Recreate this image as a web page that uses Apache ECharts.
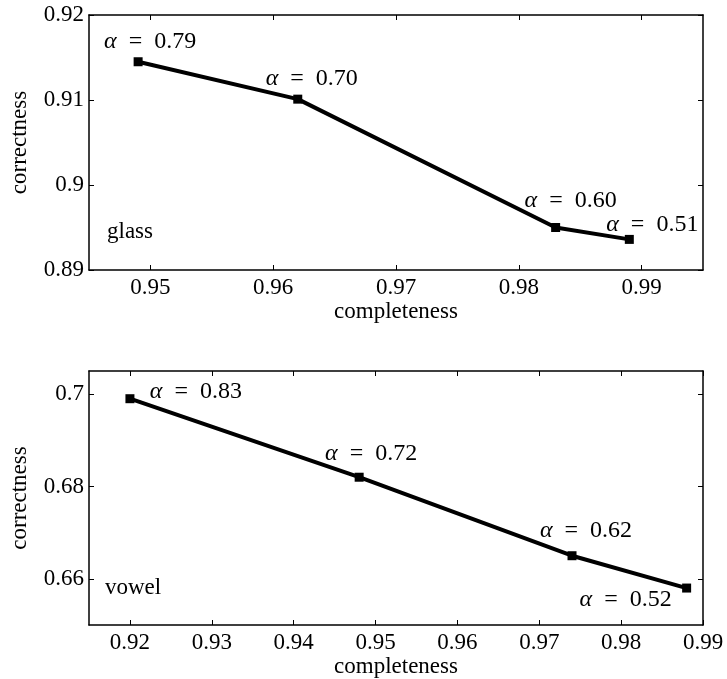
<!DOCTYPE html>
<html>
<head>
<meta charset="utf-8">
<title>correctness vs completeness</title>
<script src="https://cdn.jsdelivr.net/npm/echarts@6/dist/echarts.min.js"></script>
<style>
html,body{margin:0;padding:0;background:#fff;}
#main{width:727px;height:679px;}
</style>
</head>
<body>
<div id="main"></div>
<script>
// glass
var glassX = [0.949, 0.962, 0.983, 0.989];
var glassY = [0.9145, 0.9101, 0.895, 0.8936];
var glassAlpha = ['0.79', '0.70', '0.60', '0.51'];
var glassXTicks = [0.95, 0.96, 0.97, 0.98, 0.99];
var glassYTicks = [0.89, 0.90, 0.91, 0.92];
// vowel
var vowelX = [0.920, 0.948, 0.974, 0.988];
var vowelY = [0.699, 0.682, 0.665, 0.658];
var vowelAlpha = ['0.83', '0.72', '0.62', '0.52'];
var vowelXTicks = [0.92, 0.93, 0.94, 0.95, 0.96, 0.97, 0.98, 0.99];
var vowelYTicks = [0.66, 0.68, 0.70];

// where each alpha label sits relative to its point (px)
var glassLabelOffsets = [[12, -20], [14, -20], [15, -27], [23, -15]];
var vowelLabelOffsets = [[66, -7], [12, -24], [14, -25], [-61, 12]];

var serif = "'Liberation Serif', 'DejaVu Serif', serif";

function tickText(v){
    return parseFloat(v.toFixed(3)) + '';
}

function makeAxis(dim, gridIndex, min, max, ticks, main, position){
    var ax = {
        type: 'value',
        gridIndex: gridIndex,
        position: position,
        min: min,
        max: max,
        splitLine: {show: false},
        axisLine: {show: true, onZero: false, lineStyle: {color: '#000', width: 1.5}},
        axisTick: {show: true, inside: true, length: 5, customValues: ticks, lineStyle: {color: '#000', width: 1}},
        axisLabel: {show: main, customValues: ticks, formatter: tickText,
                    color: '#000', fontFamily: serif, fontSize: 23, margin: dim == 'x' ? 6 : 5}
    };
    if(main){
        ax.nameLocation = 'middle';
        ax.nameTextStyle = {color: '#000', fontFamily: serif, fontSize: 23};
        if(dim == 'x'){
            ax.name = 'completeness';
            ax.nameGap = 30;
        }else{
            ax.name = 'correctness';
            ax.nameGap = 58;
        }
    }
    return ax;
}

function makeSeries(xs, ys, alphas, offsets, axisIndex){
    var data = [];
    for(var i=0;i<xs.length;i++){
        data.push({
            value: [xs[i], ys[i]],
            alpha: alphas[i],
            label: {offset: offsets[i]}
        });
    }
    return {
        type: 'line',
        xAxisIndex: axisIndex,
        yAxisIndex: axisIndex,
        symbol: 'rect',
        symbolSize: 9,
        showAllSymbol: true,
        itemStyle: {color: '#000'},
        lineStyle: {color: '#000', width: 4},
        label: {
            show: true,
            position: 'inside',
            align: 'center',
            verticalAlign: 'middle',
            color: '#000',
            fontFamily: serif,
            fontSize: 24,
            formatter: function(p){
                return '{a|α}  =  ' + p.data.alpha;
            },
            rich: {
                a: {fontStyle: 'italic', fontFamily: serif, fontSize: 24, color: '#000'}
            }
        },
        data: data
    };
}

var myChart = echarts.init(document.getElementById('main'));

var option = {
    backgroundColor: '#fff',
    animation: false,
    grid: [
        {left: 84, top: 15, width: 619, height: 255},
        {left: 84, top: 371, width: 619, height: 254}
    ],
    xAxis: [
        makeAxis('x', 0, 0.945, 0.995, glassXTicks, true, 'bottom'),
        makeAxis('x', 0, 0.945, 0.995, glassXTicks, false, 'top'),
        makeAxis('x', 1, 0.915, 0.99, vowelXTicks, true, 'bottom'),
        makeAxis('x', 1, 0.915, 0.99, vowelXTicks, false, 'top')
    ],
    yAxis: [
        makeAxis('y', 0, 0.89, 0.92, glassYTicks, true, 'left'),
        makeAxis('y', 0, 0.89, 0.92, glassYTicks, false, 'right'),
        makeAxis('y', 1, 0.65, 0.705, vowelYTicks, true, 'left'),
        makeAxis('y', 1, 0.65, 0.705, vowelYTicks, false, 'right')
    ],
    graphic: [
        {type: 'text', left: 107, top: 220, style: {text: 'glass', fill: '#000', font: '23px ' + serif}},
        {type: 'text', left: 105, top: 576, style: {text: 'vowel', fill: '#000', font: '23px ' + serif}}
    ],
    series: [
        makeSeries(glassX, glassY, glassAlpha, glassLabelOffsets, 0),
        makeSeries(vowelX, vowelY, vowelAlpha, vowelLabelOffsets, 2)
    ]
};

myChart.setOption(option);
</script>
</body>
</html>
